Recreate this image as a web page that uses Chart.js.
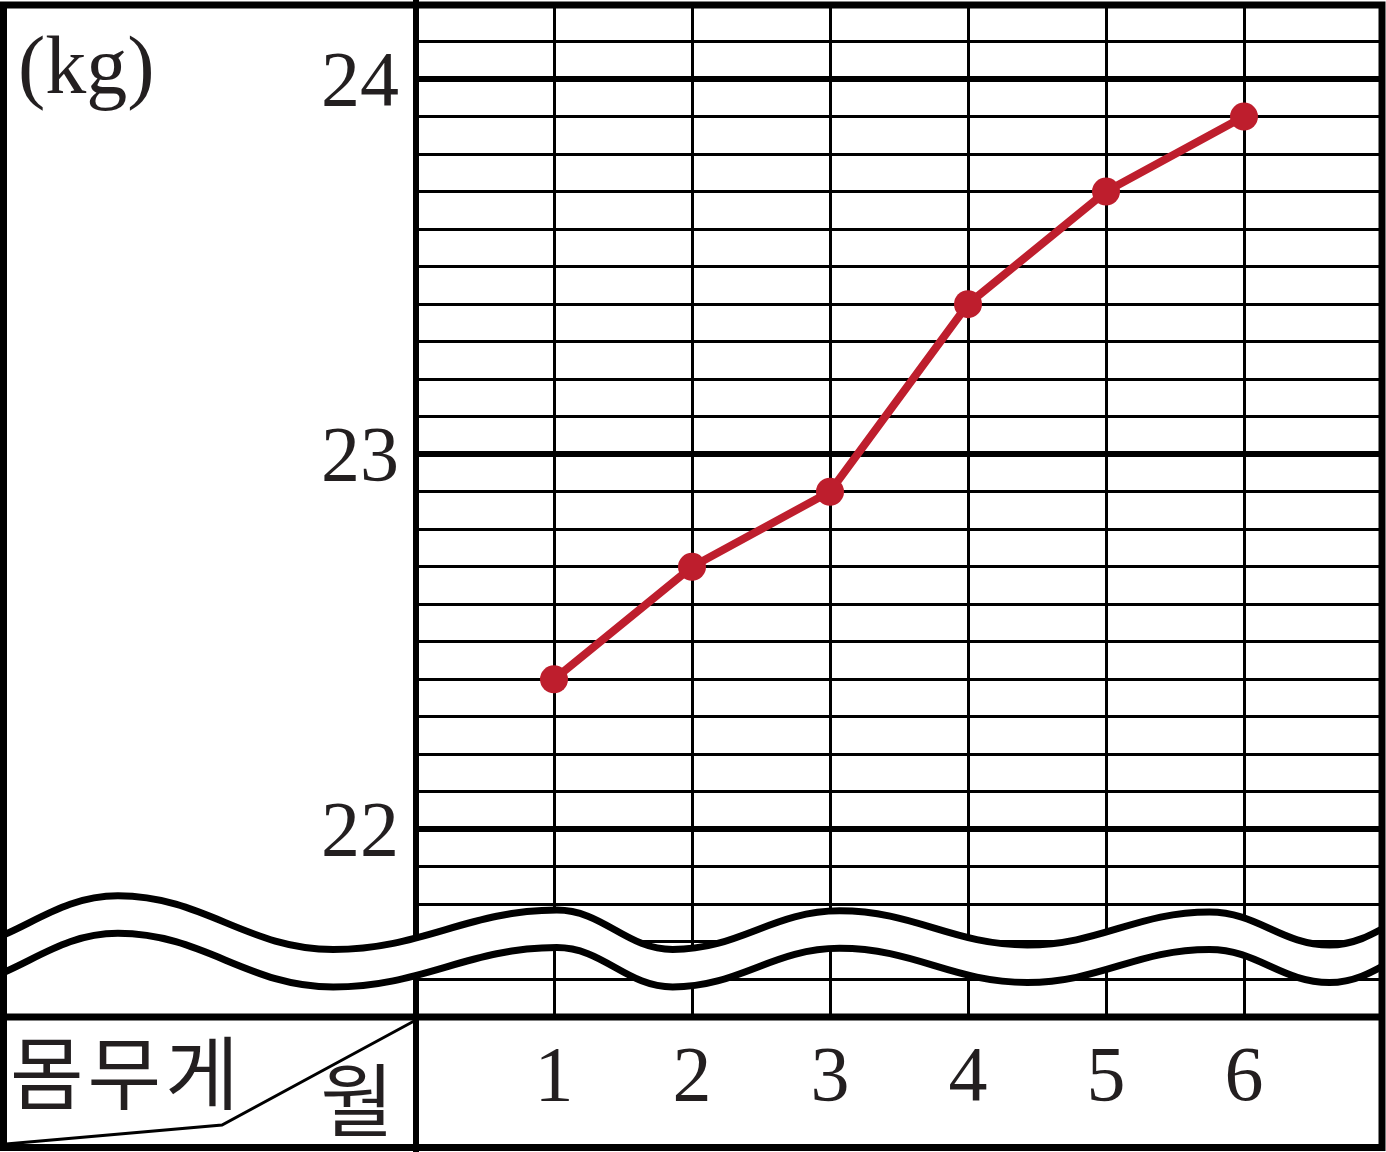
<!DOCTYPE html>
<html lang="ko">
<head>
<meta charset="utf-8">
<title>몸무게</title>
<script src="https://cdn.jsdelivr.net/npm/chart.js@4"></script>
<style>
    html, body { margin: 0; padding: 0; background: #fff; }
    canvas { display: block; }
</style>
</head>
<body>
<canvas id="chart" width="1386" height="1152"></canvas>
<script>
// ─── Data ───
const months = [1, 2, 3, 4, 5, 6];
const weights = [22.4, 22.7, 22.9, 23.4, 23.7, 23.9];
const yTickLabels = [22, 23, 24];
const xTickLabels = months;
const yMin = 21.5, yMax = 24.2, yStep = 0.1;
const xMin = 0, xMax = 7;
const unitLabel = '(kg)';
const rowHeader = '몸무게';
const colHeader = '월';

// ─── Style ───
const INK = '#231f20';
const RED = '#be1e2d';
const SERIF = "'Liberation Serif', 'DejaVu Serif', serif";
const KOREAN = "'Noto Sans CJK KR', 'Noto Sans', sans-serif";

// axis break: upper edge of the wavy band, [month, kg]
const breakWave = [[-3.45, 21.679], [-2.16, 21.823], [-0.60, 21.68], [1.02, 21.785], [1.86, 21.68],
                   [3.07, 21.783], [4.43, 21.692], [5.75, 21.78], [6.62, 21.692], [7.49, 21.80]];
const breakGap = 0.1;

function isMajor(v) { return yTickLabels.some(t => Math.abs(t - v) < 1e-6); }

function traceWave(c, pts, first) {
    pts.forEach((p, i) => {
        if (i === 0) { first ? c.moveTo(p[0], p[1]) : c.lineTo(p[0], p[1]); return; }
        const q = pts[i - 1], dx = (p[0] - q[0]) * 0.4;
        c.bezierCurveTo(q[0] + dx, q[1], p[0] - dx, p[1], p[0], p[1]);
    });
}

// ─── Table frame, break and headers ───
const tableFrame = {
    id: 'tableFrame',
    beforeDatasetsDraw(chart) {
        const { ctx: c, chartArea: a, scales: { x, y } } = chart;
        const H = chart.height;
        c.save();
        c.strokeStyle = '#000';
        c.lineWidth = 6;
        c.beginPath(); c.moveTo(a.left, 0); c.lineTo(a.left, H); c.stroke();

        const up = breakWave.map(([u, v]) => [x.getPixelForValue(u), y.getPixelForValue(v)]);
        const lo = breakWave.map(([u, v]) => [x.getPixelForValue(u), y.getPixelForValue(v - breakGap)]);
        c.beginPath(); c.rect(4, 0, a.right - 4, H); c.clip();
        c.beginPath(); traceWave(c, up, true); traceWave(c, lo.slice().reverse(), false); c.closePath();
        c.fillStyle = '#fff'; c.fill();
        c.lineWidth = 7;
        c.beginPath(); traceWave(c, up, true); c.stroke();
        c.beginPath(); traceWave(c, lo, true); c.stroke();
        c.restore();
    },
    afterDraw(chart) {
        const { ctx: c, chartArea: a } = chart;
        const H = chart.height;
        c.save();
        c.strokeStyle = '#000';
        c.lineWidth = 7;
        c.strokeRect(3.5, 5, a.right - 3.5, H - 9.5);
        c.beginPath(); c.moveTo(3.5, a.bottom); c.lineTo(a.right, a.bottom); c.stroke();

        // diagonal in the corner cell
        c.lineWidth = 3;
        c.beginPath();
        c.moveTo(6, H - 8);
        c.lineTo(222, H - 27);
        c.lineTo(a.left, a.bottom + 3);
        c.stroke();

        c.fillStyle = INK;
        c.textBaseline = 'middle';
        c.textAlign = 'left';
        c.font = `82px ${SERIF}`;
        c.fillText(unitLabel, 18, 71);
        c.font = `80px ${KOREAN}`;
        c.letterSpacing = '4px';
        c.fillText(rowHeader, 10, a.bottom + 56);
        c.letterSpacing = '0px';
        c.textAlign = 'center';
        c.fillText(colHeader, 357, a.bottom + 83);
        c.restore();
    }
};

// ─── Chart ───
new Chart(document.getElementById('chart'), {
    type: 'line',
    data: {
        datasets: [{
            data: months.map((m, i) => ({ x: m, y: weights[i] })),
            borderColor: RED,
            backgroundColor: RED,
            borderWidth: 8,
            pointRadius: 14,
            pointBackgroundColor: RED,
            pointBorderWidth: 0,
            tension: 0,
        }]
    },
    options: {
        responsive: false,
        animation: false,
        devicePixelRatio: 1,
        layout: { autoPadding: false, padding: { top: 4, right: 4, left: 0, bottom: 0 } },
        plugins: { legend: { display: false }, tooltip: { enabled: false } },
        scales: {
            x: {
                type: 'linear', min: xMin, max: xMax,
                afterFit: s => { s.height = 135; s.paddingLeft = 0; s.paddingRight = 0; },
                border: { display: false },
                grid: {
                    drawTicks: false, color: '#000',
                    lineWidth: ctx => (months.includes(ctx.tick.value) ? 3 : 0),
                },
                ticks: {
                    stepSize: 1, autoSkip: false, maxRotation: 0, padding: 16,
                    color: INK, font: { family: SERIF, size: 78 },
                    callback: v => (xTickLabels.includes(v) ? String(v) : ''),
                },
            },
            y: {
                type: 'linear', min: yMin, max: yMax,
                afterFit: s => { s.width = 416; s.paddingTop = 0; s.paddingBottom = 0; },
                border: { display: false },
                grid: {
                    drawTicks: false, color: '#000',
                    lineWidth: ctx => (isMajor(ctx.tick.value) ? 6 : 3),
                },
                ticks: {
                    stepSize: yStep, autoSkip: false, padding: 17, labelOffset: 5,
                    color: INK, font: { family: SERIF, size: 78 },
                    callback: v => (isMajor(v) ? String(Math.round(v)) : ''),
                },
            },
        },
    },
    plugins: [tableFrame],
});
</script>
</body>
</html>
